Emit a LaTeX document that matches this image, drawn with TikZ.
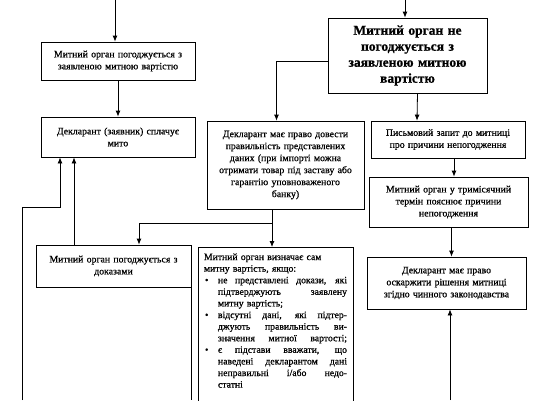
\documentclass[tikz,border=0pt]{standalone}
\usepackage{fontspec}
\setmainfont{Liberation Serif}[FakeBold=0.7]
\usetikzlibrary{arrows.meta}
\newcommand{\bpoint}{\leavevmode\hbox to 14pt{\hspace{1pt}\textbullet\hfil}}
\newcommand{\bskip}{\leavevmode\hbox to 14pt{\hfil}}
\newcommand{\jline}[1]{\hbox to 129pt{\spaceskip=.25em plus 1fil\relax #1}}
\begin{document}
\begin{tikzpicture}[>={Latex[length=6pt,width=5pt]}, x=1pt, y=-1pt, line width=.8pt]
\tikzset{box/.style={draw, align=center, inner sep=2pt, font=\fontsize{9.8}{12}\selectfont}}
\useasboundingbox(0,0) rectangle (538,400);
\clip(0,0) rectangle (538,400);

\node[box, text width=150pt, minimum height=38pt] (agree) at (118,61) {Митний орган погоджується з\\ заявленою митною вартістю};
\node[box, text width=150pt, minimum height=40pt] (pay) at (118,137) {Декларант (заявник) сплачує\\ мито};
\node[box, text width=155pt, minimum height=75pt, font=\fontsize{13.5}{16}\selectfont\bfseries] (notagree) at (407.5,55.5) {Митний орган не\\ погоджується з\\ заявленою митною\\ вартістю};
\node[box, text width=153pt, minimum height=88pt] (prove) at (285.5,165) {Декларант має право довести\\ правильність представлених\\ даних (при імпорті можна\\ отримати товар під заставу або\\ гарантію уповноваженого\\ банку)};
\node[box, text width=150pt, minimum height=37pt] (request) at (448,139.5) {Письмовий запит до митниці\\ про причини непогодження};
\node[box, text width=155pt, minimum height=50pt] (explain) at (448.5,202) {Митний орган у тримісячний\\ термін пояснює причини\\ непогодження};
\node[box, text width=155pt, minimum height=52pt] (appeal) at (446.5,283) {Декларант має право\\ оскаржити рішення митниці\\ згідно чинного законодавства};
\node[box, text width=151pt, minimum height=42pt] (evidence) at (113.5,266) {Митний орган погоджується з\\ доказами};
\node[box, anchor=north, text width=143pt, inner xsep=6pt, inner ysep=6pt, align=left, text depth=170pt, font=\fontsize{9.7}{11.6}\selectfont] (determine) at (275.5,247)
{Митний орган визначає сам\\ митну вартість, якщо:\\
\bpoint\jline{не представлені докази, які}\\
\bskip\jline{підтверджують заявлену}\\
\bskip митну вартість;\\
\bpoint\jline{відсутні дані, які підтер-}\\
\bskip\jline{джують правильність ви-}\\
\bskip\jline{значення митної вартості;}\\
\bpoint\jline{є підстави вважати, що}\\
\bskip\jline{наведені декларантом дані}\\
\bskip\jline{неправильні і/або недо-}\\
\bskip статні};

% incoming from above and below
\coordinate (topA) at (115,0);
\coordinate (topB) at (405,0);
\coordinate (botL) at (22,400);
\coordinate (botR) at (450,400);
\draw[->](topA)--(topA |- agree.north);
\draw[->](topB)--(topB |- notagree.north);
\draw[->](botR)--(botR |- appeal.south);

\draw[->](agree)--(pay);
\draw[->]([yshift=-6pt]notagree.west)-|([xshift=-9pt]prove.north);
\draw[->]([xshift=10pt]notagree.south)--([xshift=-31pt]request.north);
\draw[->]([xshift=6pt]request.south)--([xshift=5.5pt]explain.north);
\draw[->]([xshift=3pt]explain.south)--([xshift=5pt]appeal.north);

\draw[->]([xshift=-13.5pt]prove.south)--([xshift=-3.5pt]determine.north);
\coordinate (split) at ([xshift=-13.5pt, yshift=-14pt]prove.south);
\draw[->](split)-|([xshift=25.5pt]evidence.north);
\draw[->]([xshift=-39.5pt]evidence.north)--([xshift=-44pt]pay.south);
\draw[->](botL)|-([xshift=-58pt, yshift=-50pt]pay.south)--([xshift=-58pt]pay.south);
\draw(evidence.south east)--(evidence.south east |- botL);
\end{tikzpicture}
\end{document}
